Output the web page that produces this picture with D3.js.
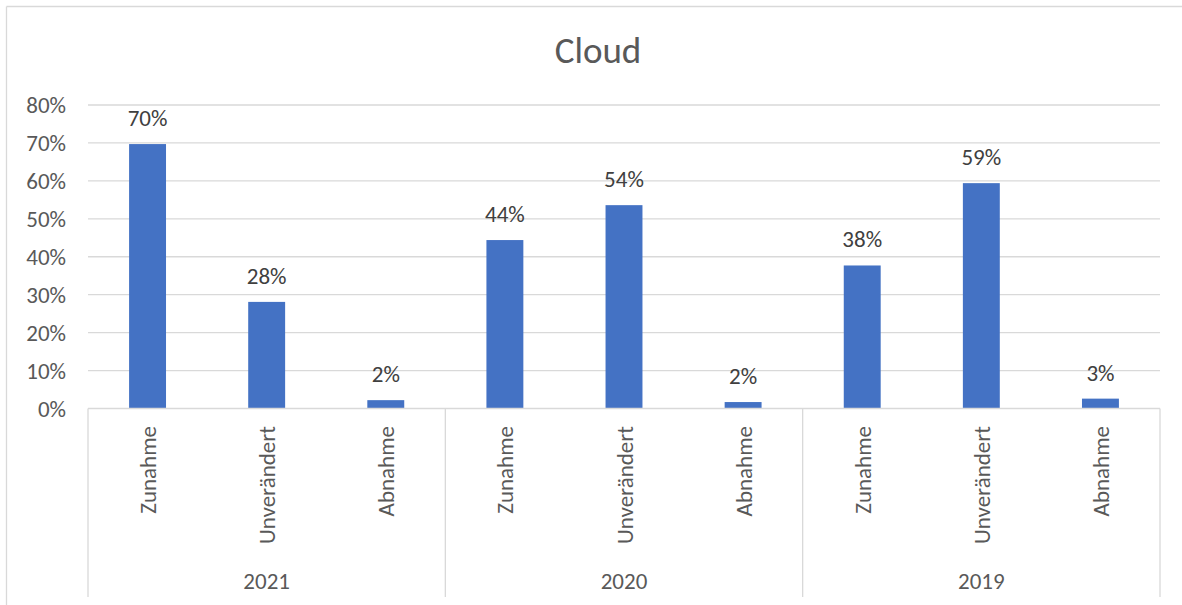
<!DOCTYPE html>
<html>
<head>
<meta charset="utf-8">
<script src="https://cdn.jsdelivr.net/npm/d3@7"></script>
<style>
  html, body { margin: 0; padding: 0; background: #fff; }
  svg { display: block; font-family: Carlito, Lato, "Open Sans", sans-serif; }
</style>
</head>
<body>
<svg id="chart" width="1182" height="605"></svg>
<script>
// ---- data ----
const title = "Cloud";
const years = ["2021", "2020", "2019"];
const categories = ["Zunahme", "Unverändert", "Abnahme"];
const values2021 = [0.697, 0.281, 0.022];
const values2020 = [0.444, 0.536, 0.017];
const values2019 = [0.377, 0.594, 0.026];
const yTicks = [0, 0.1, 0.2, 0.3, 0.4, 0.5, 0.6, 0.7, 0.8];

// ---- build rows ----
const seriesByYear = [values2021, values2020, values2019];
const rows = [];
years.forEach((yr, gi) => {
  categories.forEach((c, ci) => {
    rows.push({ key: yr + "|" + c, year: yr, cat: c, value: seriesByYear[gi][ci] });
  });
});

const svg = d3.select("#chart");
const W = 1182, H = 605;
const plot = { left: 88, right: 1160, top: 105, bottom: 408.5 };
const FS = 23;

// chart frame (top and left edges visible)
svg.append("line").attr("x1", 6.5).attr("x2", W).attr("y1", 6.5).attr("y2", 6.5)
  .attr("stroke", "#d9d9d9").attr("stroke-width", 1.3);
svg.append("line").attr("x1", 6.5).attr("x2", 6.5).attr("y1", 6.5).attr("y2", H)
  .attr("stroke", "#d9d9d9").attr("stroke-width", 1.3);

const x = d3.scaleBand().domain(rows.map(d => d.key)).range([plot.left, plot.right]).padding(0);
const xGroup = d3.scaleBand().domain(years).range([plot.left, plot.right]).padding(0);
const y = d3.scaleLinear().domain([0, 0.8]).range([plot.bottom, plot.top]);

// title
svg.append("text").attr("x", 598).attr("y", 62.5)
  .attr("text-anchor", "middle").attr("fill", "#595959")
  .attr("font-size", 37).text(title);

// gridlines
svg.append("g").selectAll("line").data(yTicks.filter(t => t > 0)).join("line")
  .attr("x1", plot.left).attr("x2", plot.right)
  .attr("y1", d => y(d)).attr("y2", d => y(d))
  .attr("stroke", "#d9d9d9").attr("stroke-width", 1.3);

// y axis labels via d3 axis
const yAxis = svg.append("g").attr("transform", `translate(${plot.left},0)`)
  .call(d3.axisLeft(y).tickValues(yTicks).tickFormat(d3.format(".0%")).tickSize(0).tickPadding(22));
yAxis.select(".domain").remove();
yAxis.selectAll("text").attr("fill", "#595959").attr("font-size", FS)
  .attr("font-family", "Carlito, Lato, sans-serif").attr("dy", "0.33em");

// bars
const barFrac = 0.31;
svg.append("g").selectAll("rect").data(rows).join("rect")
  .attr("x", d => x(d.key) + x.bandwidth() * (1 - barFrac) / 2)
  .attr("width", x.bandwidth() * barFrac)
  .attr("y", d => y(d.value))
  .attr("height", d => y(0) - y(d.value))
  .attr("fill", "#4472c4");

// data labels
svg.append("g").selectAll("text").data(rows).join("text")
  .attr("x", d => x(d.key) + x.bandwidth() / 2)
  .attr("y", d => y(d.value) - 18)
  .attr("text-anchor", "middle").attr("fill", "#404040").attr("font-size", FS)
  .text(d => d3.format(".0%")(d.value));

// x axis baseline
svg.append("line").attr("x1", plot.left).attr("x2", plot.right)
  .attr("y1", y(0)).attr("y2", y(0)).attr("stroke", "#d9d9d9").attr("stroke-width", 1.3);

// group separators
const sepX = years.map(yr => xGroup(yr)).concat([plot.right]);
svg.append("g").selectAll("line").data(sepX).join("line")
  .attr("x1", d => d).attr("x2", d => d)
  .attr("y1", y(0)).attr("y2", 597)
  .attr("stroke", "#d9d9d9").attr("stroke-width", 1.3);

// category labels (rotated)
svg.append("g").selectAll("text").data(rows).join("text")
  .attr("transform", d => `translate(${x(d.key) + x.bandwidth() / 2 + 1},426) rotate(-90)`)
  .attr("text-anchor", "end").attr("dy", "0.33em")
  .attr("fill", "#595959").attr("font-size", FS)
  .text(d => d.cat);

// group labels
svg.append("g").selectAll("text").data(years).join("text")
  .attr("x", d => xGroup(d) + xGroup.bandwidth() / 2)
  .attr("y", 589)
  .attr("text-anchor", "middle").attr("fill", "#595959").attr("font-size", FS)
  .text(d => d);
</script>
</body>
</html>
